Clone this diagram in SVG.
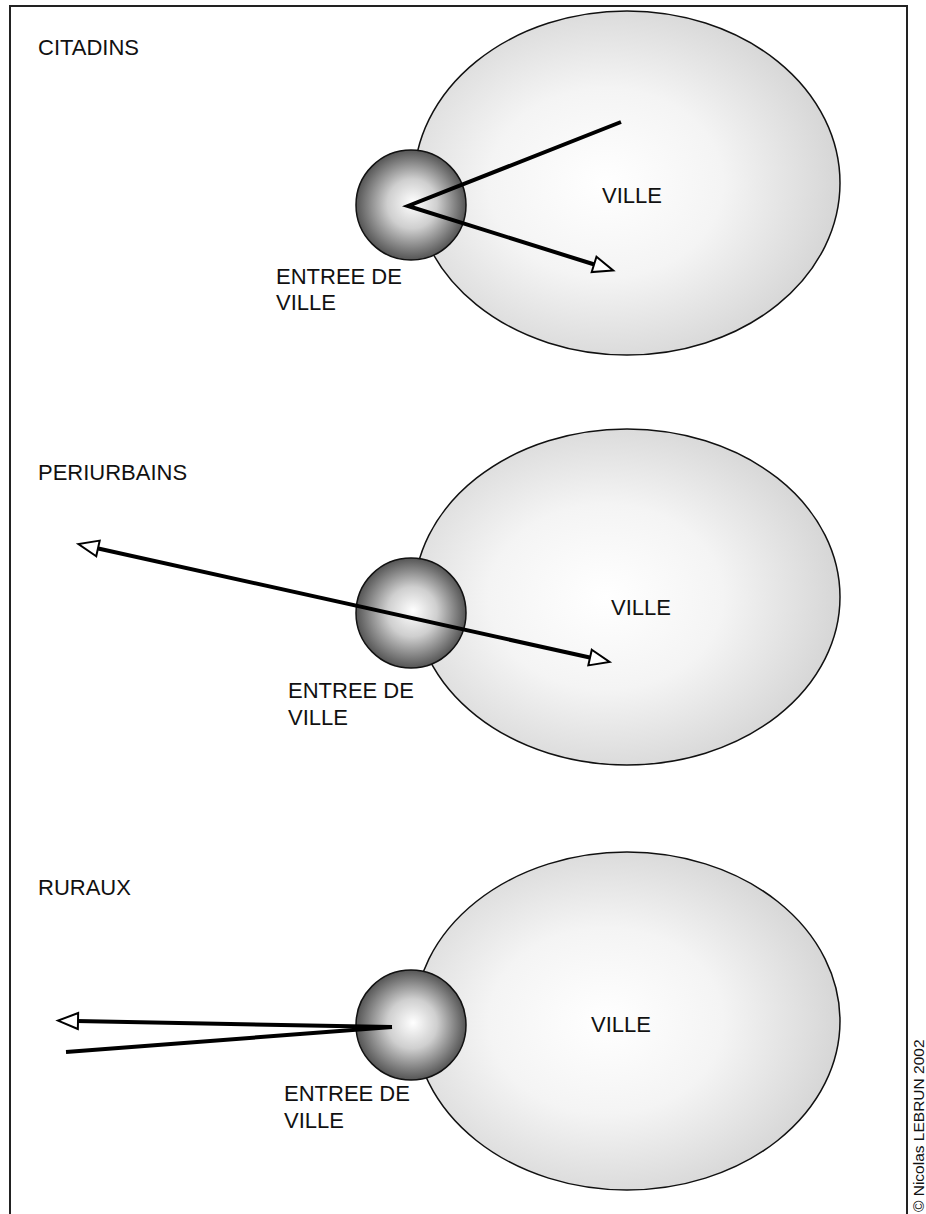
<svg xmlns="http://www.w3.org/2000/svg" width="926" height="1214" viewBox="0 0 926 1214">
<defs>
<radialGradient id="city" cx="0.45" cy="0.5" r="0.55">
<stop offset="0" stop-color="#ffffff"/>
<stop offset="0.5" stop-color="#f4f4f4"/>
<stop offset="1" stop-color="#d6d6d6"/>
</radialGradient>
<radialGradient id="ball" cx="0.5" cy="0.5" r="0.5" fx="0.52" fy="0.48">
<stop offset="0" stop-color="#ffffff"/>
<stop offset="0.45" stop-color="#cfcfcf"/>
<stop offset="1" stop-color="#555555"/>
</radialGradient>
<marker id="arr" markerUnits="userSpaceOnUse" markerWidth="26" markerHeight="22" refX="4" refY="10" orient="auto-start-reverse" viewBox="0 0 26 20">
<path d="M2,2 L22,10 L2,18 Z" fill="#fff" stroke="#000" stroke-width="2" stroke-linejoin="miter"/>
</marker>
<style>
.t{font-family:"Liberation Sans",Arial,sans-serif;font-size:22px;fill:#111}
.c{font-family:"Liberation Sans",Arial,sans-serif;font-size:15.5px;fill:#111}
.city{fill:url(#city);stroke:#111;stroke-width:1.5}
.ball{fill:url(#ball);stroke:#111;stroke-width:1.5}
.ln{fill:none;stroke:#000;stroke-width:4;stroke-linecap:butt;stroke-linejoin:miter}
</style>
</defs>
<rect x="0" y="0" width="926" height="1214" fill="#fff"/>
<path d="M10,1214 V6 H907 V1214" fill="none" stroke="#222" stroke-width="2"/>

<g id="citadins">
<ellipse class="city" cx="627" cy="183" rx="213" ry="172"/>
<circle class="ball" cx="411" cy="205" r="55"/>
<text class="t" x="38" y="55">CITADINS</text>
<text class="t" x="602" y="203">VILLE</text>
<text class="t" x="276" y="284">ENTREE DE</text>
<text class="t" x="276" y="310">VILLE</text>
</g>

<g id="periurbains">
<ellipse class="city" cx="627" cy="597" rx="213" ry="168"/>
<circle class="ball" cx="411" cy="613" r="55"/>
<text class="t" x="38" y="480">PERIURBAINS</text>
<text class="t" x="611" y="615">VILLE</text>
<text class="t" x="288" y="698">ENTREE DE</text>
<text class="t" x="288" y="725">VILLE</text>
</g>

<g id="ruraux">
<ellipse class="city" cx="627" cy="1021" rx="213" ry="169"/>
<circle class="ball" cx="411" cy="1025" r="55"/>
<text class="t" x="38" y="895">RURAUX</text>
<text class="t" x="591" y="1032">VILLE</text>
<text class="t" x="284" y="1101">ENTREE DE</text>
<text class="t" x="284" y="1128">VILLE</text>
</g>

<g id="connectors">
<polyline class="ln" points="621,122 408,206 596,265" marker-end="url(#arr)"/>
<line class="ln" x1="96" y1="548" x2="592" y2="658" marker-start="url(#arr)" marker-end="url(#arr)"/>
<path class="ln" d="M392,1027 L76,1021" marker-end="url(#arr)"/>
<path class="ln" d="M392,1027 L66,1052"/>
</g>

<text class="c" transform="translate(924,1212) rotate(-90)">© Nicolas LEBRUN 2002</text>
</svg>
